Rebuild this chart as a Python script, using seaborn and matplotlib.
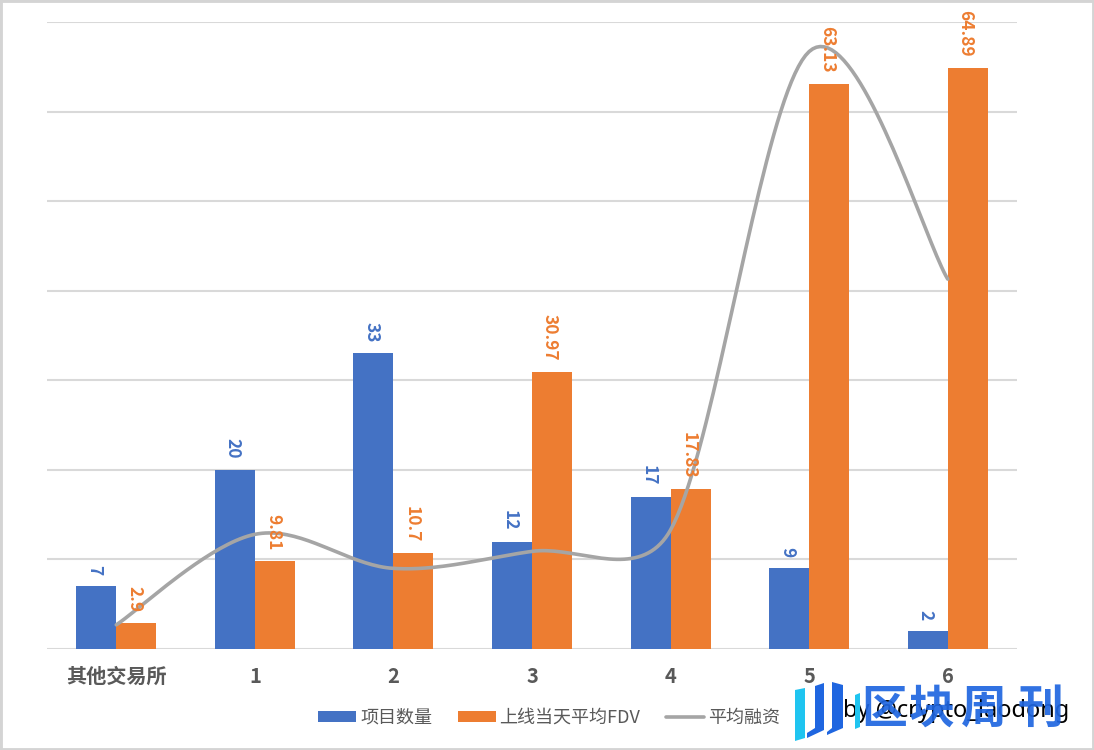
import numpy as np
import pandas as pd
import matplotlib
matplotlib.use("Agg")
import matplotlib.pyplot as plt
from matplotlib.lines import Line2D
from matplotlib.patches import Patch, Polygon, Rectangle
import seaborn as sns

categories = ["其他交易所", "1", "2", "3", "4", "5", "6"]
project_count = [7, 20, 33, 12, 17, 9, 2]
avg_fdv = [2.9, 9.81, 10.7, 30.97, 17.83, 63.13, 64.89]
avg_funding = [2.7, 12.8, 9.0, 10.9, 13.3, 66.7, 41.3]
series_names = ["项目数量", "上线当天平均FDV", "平均融资"]

BLUE, ORANGE, GREY = "#4472c4", "#ed7d31", "#a5a5a5"
W, H = 1094, 750

sns.set_theme(style="white")
plt.rcParams["font.family"] = ["Noto Sans CJK SC", "DejaVu Sans"]

fig = plt.figure(figsize=(W / 100, H / 100), dpi=100)
ax = fig.add_axes([47 / W, 1 - 649 / H, 970 / W, 627 / H])

df = pd.DataFrame({
    "cat": categories * 2,
    "val": project_count + avg_fdv,
    "series": [series_names[0]] * 7 + [series_names[1]] * 7,
})
sns.barplot(data=df, x="cat", y="val", hue="series", order=categories,
            palette=[BLUE, ORANGE], width=0.577, gap=0, saturation=1,
            legend=False, ax=ax, zorder=2, linewidth=0, edgecolor="none")


def smooth(values, aspect=8.96 / 138.6, tension=0.5, n=40):
    """Smoothed line through the values, with chord-weighted, capped tangents."""
    y = np.array(values, float)
    P = np.column_stack([np.arange(len(y), dtype=float), y * aspect])
    xs, ys = [], []
    for i in range(len(P) - 1):
        p0 = P[max(i - 1, 0)]
        p1, p2 = P[i], P[i + 1]
        p3 = P[min(i + 2, len(P) - 1)]
        d0 = np.linalg.norm(p1 - p0)
        d1 = np.linalg.norm(p2 - p1)
        d2 = np.linalg.norm(p3 - p2)
        c1 = p1 + min(tension * d1 / (d0 + d1), 1 / 6) * (p2 - p0)
        c2 = p2 - min(tension * d1 / (d1 + d2), 1 / 6) * (p3 - p1)
        t = np.linspace(0, 1, n)[:, None]
        c = (1 - t) ** 3 * p1 + 3 * (1 - t) ** 2 * t * c1 + 3 * (1 - t) * t ** 2 * c2 + t ** 3 * p2
        xs.append(c[:, 0])
        ys.append(c[:, 1] / aspect)
    return np.concatenate(xs), np.concatenate(ys)


sx, sy = smooth(avg_funding)
sns.lineplot(x=sx, y=sy, color=GREY, linewidth=2.6, sort=False, errorbar=None, ax=ax, zorder=3)

ax.set_xlim(-0.5, 6.5)
ax.set_ylim(0, 70)
ax.set_yticks(range(0, 71, 10))
ax.set_yticklabels([])
ax.set_xlabel("")
ax.set_ylabel("")
ax.grid(axis="y", color="#d9d9d9", linewidth=1.5, zorder=0)
ax.set_axisbelow(True)
for s in ax.spines.values():
    s.set_visible(False)
ax.tick_params(axis="x", length=0, pad=12)
ax.tick_params(axis="y", length=0)
ax.set_xticks(range(7))
ax.set_xticklabels(categories, fontsize=14.5, fontweight="bold", color="#595959")

off = 0.577 / 4
for i, (a, b) in enumerate(zip(project_count, avg_fdv)):
    ax.annotate(str(a), (i - off, a), xytext=(-1.5, 8), textcoords="offset points",
                rotation=270, ha="center", va="bottom", fontsize=12.5, fontweight="bold",
                color=BLUE, zorder=4, annotation_clip=False)
    ax.annotate(f"{b:g}", (i + off, b), xytext=(-1.5, 8), textcoords="offset points",
                rotation=270, ha="center", va="bottom", fontsize=12.5, fontweight="bold",
                color=ORANGE, zorder=4, annotation_clip=False)

handles = [
    Patch(facecolor=BLUE, linewidth=0, label=series_names[0]),
    Patch(facecolor=ORANGE, linewidth=0, label=series_names[1]),
    Line2D([0], [0], color=GREY, lw=2.6, label=series_names[2]),
]
fig.legend(handles=handles, loc="center", bbox_to_anchor=(549 / W, 1 - 718 / H), ncol=3,
           frameon=False, fontsize=13, labelcolor="#595959", handlelength=2.1,
           handleheight=0.5, handletextpad=0.22, columnspacing=1.42)

# Frame of the picture
fig.add_artist(Rectangle((0, 0), 1, 1, transform=fig.transFigure, fill=False,
                         edgecolor="#d4d4d4", linewidth=3.5))

# Watermarks
fig.text(1069 / W, 1 - 711 / H, "by @crypto_laodong", fontsize=17, color="black",
         family="Noto Sans", ha="right", va="center", zorder=10)


def px(points):
    return [(x / W, 1 - y / H) for x, y in points]


LOGO, CYAN = "#1f66e0", "#1fc4f0"
for pts, col in [
    ([(795, 690), (805, 688), (805, 738), (795, 741)], CYAN),
    ([(815, 686), (824, 683), (824, 730), (807, 738), (807, 733), (815, 728)], LOGO),
    ([(832, 682), (843, 685), (843, 728), (827, 735), (827, 732), (832, 728)], LOGO),
    ([(855, 695), (860, 693), (860, 727), (855, 729)], CYAN),
]:
    fig.add_artist(Polygon(px(pts), closed=True, transform=fig.transFigure, facecolor=col,
                           edgecolor="none", zorder=11))
for ch, cx in zip("区块周刊", [884, 932, 984, 1040]):
    fig.text(cx / W, 1 - 710 / H, ch, fontsize=33, fontweight="bold", color=LOGO,
             alpha=0.92, ha="center", va="center", zorder=11)

fig.savefig("out.png", dpi=100)
